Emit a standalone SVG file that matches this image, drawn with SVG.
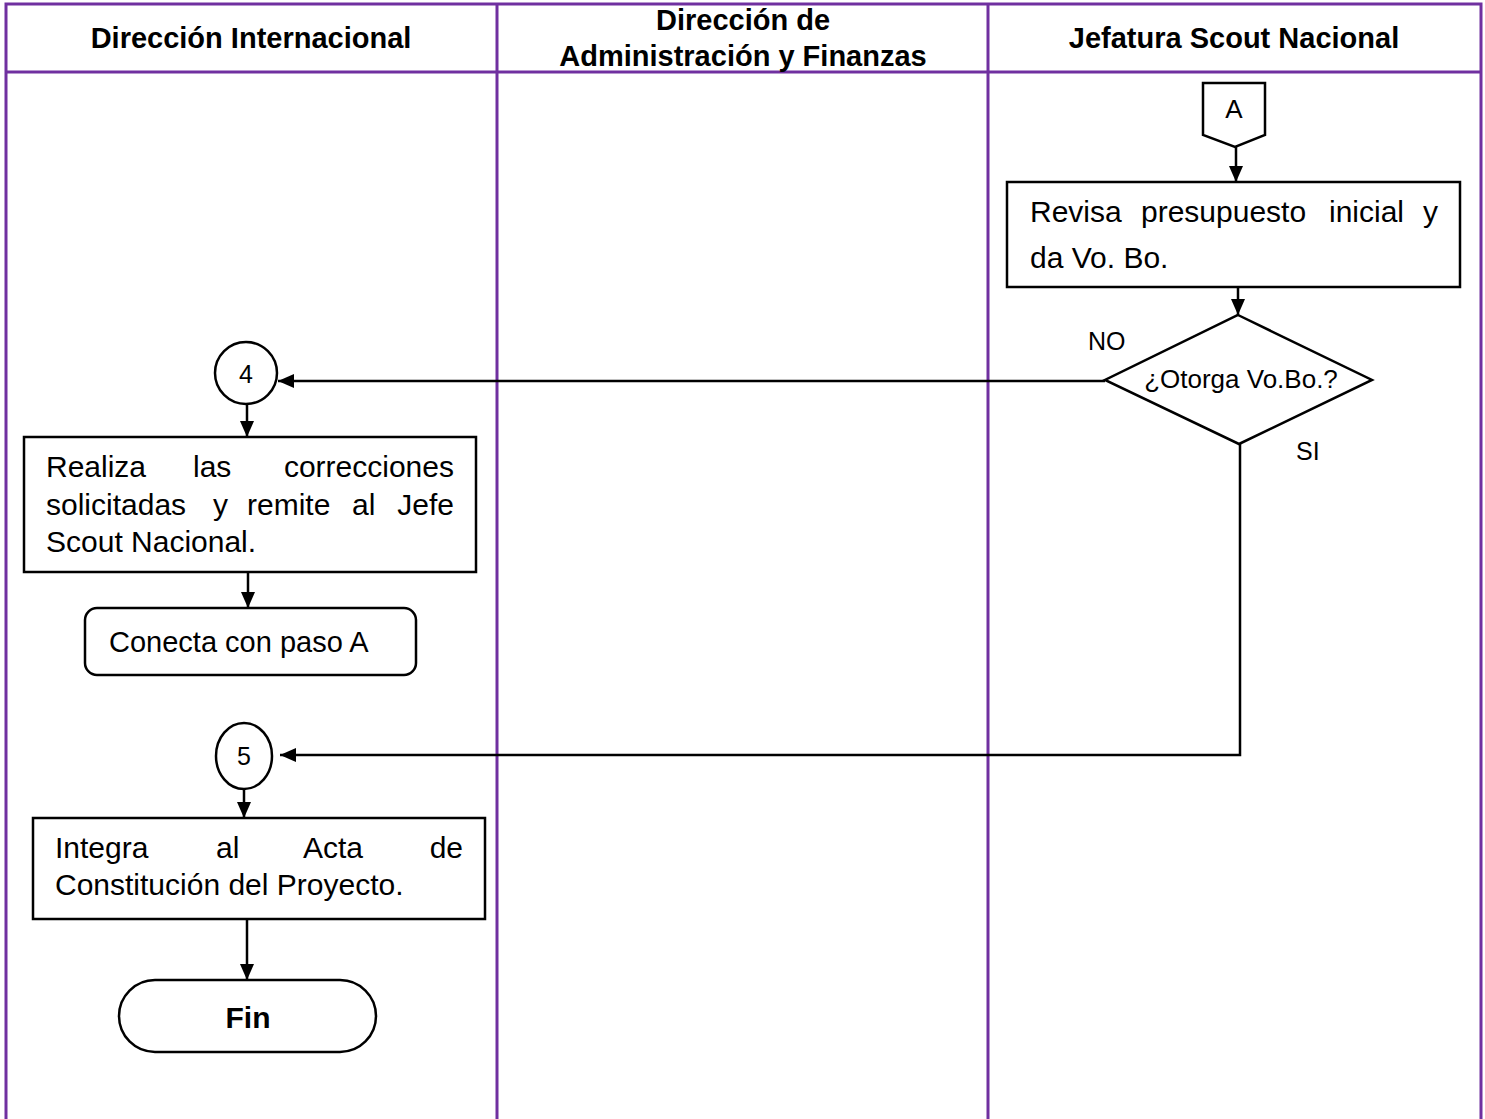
<svg xmlns="http://www.w3.org/2000/svg" width="1485" height="1119" viewBox="0 0 1485 1119">
  <style>
    .lane { fill: none; stroke: #7030A0; stroke-width: 3; }
    .shape { fill: #ffffff; stroke: #000000; stroke-width: 2.5; }
    .conn { fill: none; stroke: #000000; stroke-width: 2.5; }
    .hdr { font-family: "Liberation Sans", Arial, sans-serif; font-weight: bold; font-size: 29px; fill: #000000; text-anchor: middle; }
    .txt { font-family: "Liberation Sans", Arial, sans-serif; font-size: 30px; fill: #000000; }
    .sm { font-family: "Liberation Sans", Arial, sans-serif; font-size: 25px; fill: #000000; }
  </style>
  <defs>
    <marker id="arrow" viewBox="0 0 16 14" refX="16" refY="7" markerWidth="16" markerHeight="14" markerUnits="userSpaceOnUse" orient="auto">
      <path d="M0,0 L16,7 L0,14 Z" fill="#000000"/>
    </marker>
  </defs>

  <rect width="1485" height="1119" fill="#ffffff"/>

  <!-- swimlane grid -->
  <g id="lanes">
    <path class="lane" d="M6,1119 V4 H1481 V1119"/>
    <line class="lane" x1="6" y1="72" x2="1481" y2="72"/>
    <line class="lane" x1="497" y1="4" x2="497" y2="1119"/>
    <line class="lane" x1="988" y1="4" x2="988" y2="1119"/>
    <text class="hdr" x="251" y="48">Dirección Internacional</text>
    <text class="hdr" x="743" y="30">Dirección de</text>
    <text class="hdr" x="743" y="66">Administración y Finanzas</text>
    <text class="hdr" x="1234" y="48">Jefatura Scout Nacional</text>
  </g>

  <!-- connectors -->
  <g id="connectors">
    <line class="conn" x1="1236" y1="147" x2="1236" y2="182" marker-end="url(#arrow)"/>
    <line class="conn" x1="1238" y1="287" x2="1238" y2="315" marker-end="url(#arrow)"/>
    <line class="conn" x1="1105" y1="381" x2="278" y2="381" marker-end="url(#arrow)"/>
    <polyline class="conn" points="1240,444 1240,755 280,755" marker-end="url(#arrow)"/>
    <line class="conn" x1="247" y1="404" x2="247" y2="437" marker-end="url(#arrow)"/>
    <line class="conn" x1="248" y1="572" x2="248" y2="608" marker-end="url(#arrow)"/>
    <line class="conn" x1="244" y1="790" x2="244" y2="818" marker-end="url(#arrow)"/>
    <line class="conn" x1="247" y1="919" x2="247" y2="980" marker-end="url(#arrow)"/>
    <text class="sm" x="1088" y="350">NO</text>
    <text class="sm" x="1296" y="460">SI</text>
  </g>

  <!-- off-page connector A -->
  <g id="node-A">
    <polygon class="shape" points="1203,83 1265,83 1265,135 1235,147 1203,135"/>
    <text class="sm" x="1234" y="118" text-anchor="middle" style="font-size:26px">A</text>
  </g>

  <!-- review budget -->
  <g id="node-revisa">
    <rect class="shape" x="1007" y="182" width="453" height="105"/>
    <text class="txt" y="222"><tspan x="1030">Revisa</tspan><tspan x="1141">presupuesto</tspan><tspan x="1329">inicial</tspan><tspan x="1438" text-anchor="end">y</tspan></text>
    <text class="txt" x="1030" y="268">da Vo. Bo.</text>
  </g>

  <!-- decision -->
  <g id="node-decision">
    <polygon class="shape" points="1238,315 1372,380 1239,444 1105,380"/>
    <text class="sm" x="1241" y="388" text-anchor="middle" style="font-size:26px">¿Otorga Vo.Bo.?</text>
  </g>

  <!-- connector 4 -->
  <g id="node-4">
    <circle class="shape" cx="246" cy="373" r="31"/>
    <text class="sm" x="246" y="383" text-anchor="middle">4</text>
  </g>

  <!-- corrections -->
  <g id="node-corrige">
    <rect class="shape" x="24" y="437" width="452" height="135"/>
    <text class="txt" y="477"><tspan x="46">Realiza</tspan><tspan x="193">las</tspan><tspan x="454" text-anchor="end">correcciones</tspan></text>
    <text class="txt" y="515"><tspan x="46">solicitadas</tspan><tspan x="213">y</tspan><tspan x="247">remite</tspan><tspan x="352">al</tspan><tspan x="454" text-anchor="end">Jefe</tspan></text>
    <text class="txt" x="46" y="552">Scout Nacional.</text>
  </g>

  <!-- link back to A -->
  <g id="node-conecta">
    <rect class="shape" x="85" y="608" width="331" height="67" rx="12" ry="12"/>
    <text class="txt" x="109" y="652" style="font-size:29px">Conecta con paso A</text>
  </g>

  <!-- connector 5 -->
  <g id="node-5">
    <ellipse class="shape" cx="244" cy="756" rx="28" ry="33"/>
    <text class="sm" x="244" y="765" text-anchor="middle">5</text>
  </g>

  <!-- integrate into charter -->
  <g id="node-integra">
    <rect class="shape" x="33" y="818" width="452" height="101"/>
    <text class="txt" y="858"><tspan x="55">Integra</tspan><tspan x="216">al</tspan><tspan x="303">Acta</tspan><tspan x="463" text-anchor="end">de</tspan></text>
    <text class="txt" x="55" y="895">Constitución del Proyecto.</text>
  </g>

  <!-- end -->
  <g id="node-fin">
    <rect class="shape" x="119" y="980" width="257" height="72" rx="36" ry="36"/>
    <text class="hdr" x="248" y="1028" style="font-size:30px">Fin</text>
  </g>
</svg>
